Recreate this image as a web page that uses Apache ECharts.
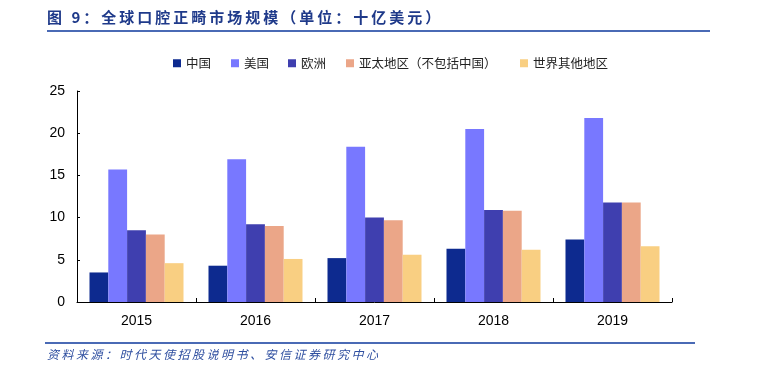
<!DOCTYPE html>
<html>
<head>
<meta charset="utf-8">
<script src="https://cdn.jsdelivr.net/npm/echarts@6/dist/echarts.min.js"></script>
<style>
html,body{margin:0;padding:0;background:#fff;}
#wrap{position:relative;width:767px;height:379px;}
#c{width:767px;height:379px;}
.ov{position:absolute;font-family:"Noto Sans CJK SC",sans-serif;white-space:nowrap;}
#title{left:47px;top:7px;font-size:15px;font-weight:bold;color:#1F3A8A;letter-spacing:3px;line-height:20px;}
#source{left:47px;top:345px;font-size:12px;font-style:italic;color:#2F4FA0;letter-spacing:2.5px;line-height:18px;}
</style>
</head>
<body>
<div id="wrap">
<div id="c"></div>
<div class="ov" id="title"></div>
<div class="ov" id="source"></div>
</div>
<script>
const categories = ['2015', '2016', '2017', '2018', '2019'];
const seriesNames = ['中国', '美国', '欧洲', '亚太地区（不包括中国）', '世界其他地区'];
const china = [3.5, 4.3, 5.2, 6.3, 7.4];
const usa = [15.7, 16.9, 18.4, 20.5, 21.8];
const europe = [8.5, 9.2, 10.0, 10.9, 11.8];
const asiaPacific = [8.0, 9.0, 9.7, 10.8, 11.8];
const restOfWorld = [4.6, 5.1, 5.6, 6.2, 6.6];
const yTicks = [0, 5, 10, 15, 20, 25];
const titleText = '图 9：全球口腔正畸市场规模（单位：十亿美元）';
const sourceText = '资料来源：时代天使招股说明书、安信证券研究中心';

const colors = ['#0D2A8F', '#7878FF', '#3F3FAF', '#EBA688', '#F9CF82'];
const values = [china, usa, europe, asiaPacific, restOfWorld];
const legendLefts = [168, 226, 283, 341, 515];

document.getElementById('title').textContent = titleText;
document.getElementById('source').textContent = sourceText;

const chart = echarts.init(document.getElementById('c'), null, {renderer: 'canvas'});
const cjk = '"Noto Sans CJK SC", sans-serif';
chart.setOption({
  animation: false,
  backgroundColor: '#fff',
  color: colors,
  grid: {left: 77, right: 95, top: 91, bottom: 77, containLabel: false},
  legend: seriesNames.map((name, i) => ({
    top: 52,
    left: legendLefts[i],
    itemWidth: 8,
    itemHeight: 8,
    icon: 'rect',
    textStyle: {fontFamily: cjk, fontSize: 12.5, color: '#222'},
    data: [name]
  })),
  xAxis: {
    type: 'category',
    data: categories,
    axisLine: {lineStyle: {color: '#000', width: 1}},
    axisTick: {show: true, inside: true, length: 4, lineStyle: {color: '#000'}},
    axisLabel: {fontFamily: 'Liberation Sans, Arial, sans-serif', fontSize: 14, color: '#000', margin: 12}
  },
  yAxis: {
    type: 'value',
    min: yTicks[0],
    max: yTicks[yTicks.length - 1],
    interval: 5,
    axisLine: {show: true, lineStyle: {color: '#000', width: 1}},
    axisTick: {show: true, inside: true, length: 3, lineStyle: {color: '#000'}},
    splitLine: {show: false},
    axisLabel: {fontFamily: 'Liberation Sans, Arial, sans-serif', fontSize: 14, color: '#000', margin: 12}
  },
  series: seriesNames.map((name, i) => ({
    name: name,
    type: 'bar',
    data: values[i],
    barGap: '0%',
    barCategoryGap: '21%',
    itemStyle: {color: colors[i]}
  })),
  graphic: [
    {type: 'rect', shape: {x: 47, y: 30, width: 663, height: 2}, style: {fill: '#4A6AB5'}},
    {type: 'rect', shape: {x: 45, y: 342, width: 650, height: 2}, style: {fill: '#4A6AB5'}}
  ]
});
</script>
</body>
</html>
